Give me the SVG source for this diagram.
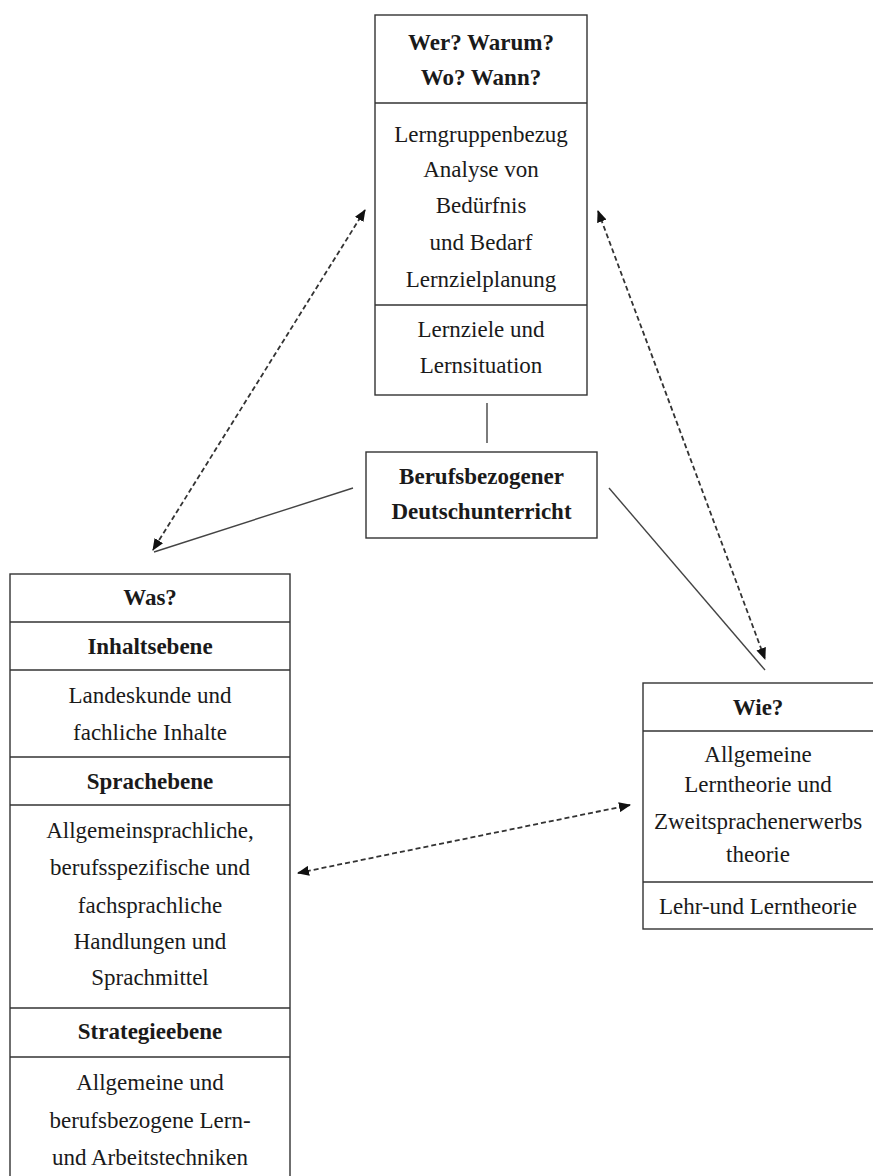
<svg xmlns="http://www.w3.org/2000/svg" width="873" height="1176" viewBox="0 0 873 1176">
<style>
  .box { fill: #ffffff; stroke: #333333; stroke-width: 1.4; }
  .div { stroke: #333333; stroke-width: 1.4; fill: none; }
  text { font-family: "Liberation Serif", "Times New Roman", serif; font-size: 23px; fill: #1a1a1a; text-anchor: middle; }
  .b { font-weight: bold; }
  .solid { stroke: #444444; stroke-width: 1.4; fill: none; }
  .dash { stroke: #333333; stroke-width: 1.8; fill: none; stroke-dasharray: 5 3; marker-start: url(#arr); marker-end: url(#arr); }
</style>
<defs>
  <marker id="arr" markerUnits="userSpaceOnUse" markerWidth="12" markerHeight="10" refX="11" refY="5" orient="auto-start-reverse" viewBox="0 0 12 10">
    <path d="M0,0 L12,5 L0,10 z" fill="#111111"/>
  </marker>
</defs>
<rect width="873" height="1176" fill="#ffffff"/>

<g id="connectors">
  <line class="solid" x1="487" y1="403" x2="487" y2="443"/>
  <line class="solid" x1="353" y1="488" x2="154" y2="552"/>
  <line class="solid" x1="609" y1="488" x2="765" y2="670"/>
  <line class="dash" x1="365" y1="210" x2="153" y2="550"/>
  <line class="dash" x1="598" y1="211" x2="765" y2="659"/>
  <line class="dash" x1="298" y1="873" x2="630" y2="805"/>
</g>

<g id="node-top">
  <rect class="box" x="375" y="15" width="212" height="380"/>
  <line class="div" x1="375" y1="103" x2="587" y2="103"/>
  <line class="div" x1="375" y1="305" x2="587" y2="305"/>
  <text class="b" x="481" y="50">Wer? Warum?</text>
  <text class="b" x="481" y="85">Wo? Wann?</text>
  <text x="481" y="142">Lerngruppenbezug</text>
  <text x="481" y="177">Analyse von</text>
  <text x="481" y="213">Bedürfnis</text>
  <text x="481" y="250">und Bedarf</text>
  <text x="481" y="287">Lernzielplanung</text>
  <text x="481" y="337">Lernziele und</text>
  <text x="481" y="373">Lernsituation</text>
</g>

<g id="node-center">
  <rect class="box" x="366" y="452" width="231" height="86"/>
  <text class="b" x="481.5" y="484">Berufsbezogener</text>
  <text class="b" x="481.5" y="519">Deutschunterricht</text>
</g>

<g id="node-left">
  <rect class="box" x="10" y="574" width="280" height="610"/>
  <line class="div" x1="10" y1="622" x2="290" y2="622"/>
  <line class="div" x1="10" y1="670" x2="290" y2="670"/>
  <line class="div" x1="10" y1="757" x2="290" y2="757"/>
  <line class="div" x1="10" y1="805" x2="290" y2="805"/>
  <line class="div" x1="10" y1="1008" x2="290" y2="1008"/>
  <line class="div" x1="10" y1="1057" x2="290" y2="1057"/>
  <text class="b" x="150" y="605">Was?</text>
  <text class="b" x="150" y="654">Inhaltsebene</text>
  <text x="150" y="703">Landeskunde und</text>
  <text x="150" y="740">fachliche Inhalte</text>
  <text class="b" x="150" y="789">Sprachebene</text>
  <text x="150" y="838">Allgemeinsprachliche,</text>
  <text x="150" y="875">berufsspezifische und</text>
  <text x="150" y="913">fachsprachliche</text>
  <text x="150" y="949">Handlungen und</text>
  <text x="150" y="985">Sprachmittel</text>
  <text class="b" x="150" y="1039">Strategieebene</text>
  <text x="150" y="1090">Allgemeine und</text>
  <text x="150" y="1128">berufsbezogene Lern-</text>
  <text x="150" y="1165">und Arbeitstechniken</text>
</g>

<g id="node-right">
  <rect class="box" x="643" y="683" width="233" height="246"/>
  <line class="div" x1="643" y1="731" x2="876" y2="731"/>
  <line class="div" x1="643" y1="882" x2="876" y2="882"/>
  <text class="b" x="758" y="715">Wie?</text>
  <text x="758" y="762">Allgemeine</text>
  <text x="758" y="792">Lerntheorie und</text>
  <text x="758" y="829">Zweitsprachenerwerbs</text>
  <text x="758" y="862">theorie</text>
  <text x="758" y="914">Lehr-und Lerntheorie</text>
</g>
</svg>
